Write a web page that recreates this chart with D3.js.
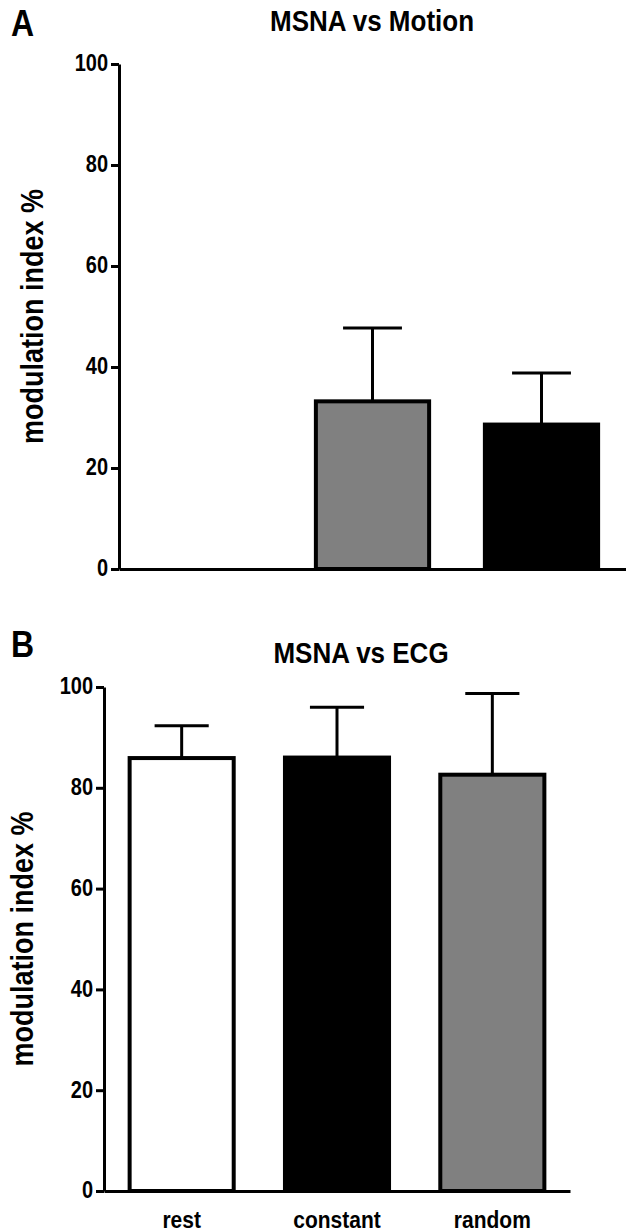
<!DOCTYPE html>
<html>
<head>
<meta charset="utf-8">
<script src="https://cdn.jsdelivr.net/npm/d3@7"></script>
<style>
  body { margin: 0; background: #fff; }
  svg text { font-family: "Liberation Sans", Arial, sans-serif; font-weight: bold; fill: #000; }
</style>
</head>
<body>
<svg id="chart" width="626" height="1232"></svg>
<script>
const categories = ['rest', 'constant', 'random'];
const yTicks = [0, 20, 40, 60, 80, 100];

// panel A: MSNA vs Motion (no value at rest)
const motionMeans = [null, 33.2, 28.6];
const motionErrors = [null, 14.5, 10.2];
const motionFills = ['#ffffff', '#808080', '#000000'];

// panel B: MSNA vs ECG
const ecgMeans = [85.9, 86.0, 82.6];
const ecgErrors = [6.4, 10.0, 16.1];
const ecgFills = ['#ffffff', '#000000', '#808080'];

// the original lettering is a little taller than Arial
const stretch = 1.15;

const svg = d3.select('#chart');

function drawPanel(opts) {
  const { letter, title, means, errors, fills, left, right, top, bottom, showX, titleX, titleY, letterY, labelX } = opts;

  const rows = categories.map((c, i) => ({ cat: c, mean: means[i], err: errors[i], fill: fills[i] }));

  const x = d3.scaleBand()
    .domain(categories)
    .range([left, right])
    .paddingInner(0.33)
    .paddingOuter(0.165);

  const y = d3.scaleLinear()
    .domain([0, 100])
    .range([bottom, top]);

  svg.append('text')
    .attr('transform', `translate(11, ${letterY}) scale(1, ${stretch})`)
    .style('font-size', '32px')
    .text(letter);

  svg.append('text')
    .attr('transform', `translate(${titleX}, ${titleY}) scale(1, ${stretch})`)
    .attr('text-anchor', 'middle')
    .style('font-size', '26px')
    .text(title);

  svg.append('text')
    .attr('transform', `translate(${labelX}, ${(top + bottom) / 2}) rotate(-90) scale(1, ${stretch})`)
    .attr('text-anchor', 'middle')
    .style('font-size', '27px')
    .text('modulation index %');

  const bars = rows.filter((d) => d.mean !== null);

  // error bars (upper only)
  const eb = svg.append('g').attr('class', 'errors');
  eb.selectAll('line.stem')
    .data(bars)
    .enter()
    .append('line')
    .attr('x1', (d) => x(d.cat) + x.bandwidth() / 2)
    .attr('x2', (d) => x(d.cat) + x.bandwidth() / 2)
    .attr('y1', (d) => y(d.mean))
    .attr('y2', (d) => y(d.mean + d.err))
    .attr('stroke', '#000')
    .attr('stroke-width', 3);
  eb.selectAll('line.cap')
    .data(bars)
    .enter()
    .append('line')
    .attr('x1', (d) => x(d.cat) + x.bandwidth() * 0.24)
    .attr('x2', (d) => x(d.cat) + x.bandwidth() * 0.76)
    .attr('y1', (d) => y(d.mean + d.err))
    .attr('y2', (d) => y(d.mean + d.err))
    .attr('stroke', '#000')
    .attr('stroke-width', 3);

  svg.append('g')
    .selectAll('rect')
    .data(bars)
    .enter()
    .append('rect')
    .attr('x', (d) => x(d.cat))
    .attr('y', (d) => y(d.mean))
    .attr('width', x.bandwidth())
    .attr('height', (d) => y(0) - y(d.mean))
    .attr('fill', (d) => d.fill)
    .attr('stroke', '#000')
    .attr('stroke-width', 4);

  const yAxis = d3.axisLeft(y)
    .tickValues(yTicks)
    .tickSize(8)
    .tickSizeOuter(0)
    .tickPadding(3);

  const gy = svg.append('g')
    .attr('transform', `translate(${left}, 0)`)
    .call(yAxis);
  gy.selectAll('path, line').attr('stroke', '#000').attr('stroke-width', 3);
  gy.selectAll('text')
    .style('font-size', '20px')
    .attr('fill', '#000')
    .attr('dy', '0.3em')
    .attr('transform', `scale(1, ${stretch})`);

  const xAxis = d3.axisBottom(x)
    .tickSize(0)
    .tickSizeOuter(0)
    .tickPadding(17);

  const gx = svg.append('g')
    .attr('transform', `translate(0, ${bottom})`)
    .call(xAxis);
  gx.select('.domain').attr('stroke', '#000').attr('stroke-width', 3);
  gx.selectAll('text')
    .style('font-size', '21px')
    .attr('fill', '#000')
    .attr('transform', `scale(1, ${stretch})`);
  if (!showX) gx.selectAll('.tick').remove();
}

drawPanel({
  letter: 'A', title: 'MSNA vs Motion',
  means: motionMeans, errors: motionErrors, fills: motionFills,
  left: 119, right: 626, top: 64, bottom: 569,
  showX: false, titleX: 372, titleY: 31, letterY: 36, labelX: 43
});

drawPanel({
  letter: 'B', title: 'MSNA vs ECG',
  means: ecgMeans, errors: ecgErrors, fills: ecgFills,
  left: 104, right: 570, top: 687, bottom: 1191,
  showX: true, titleX: 361, titleY: 663, letterY: 657, labelX: 33
});
</script>
</body>
</html>
